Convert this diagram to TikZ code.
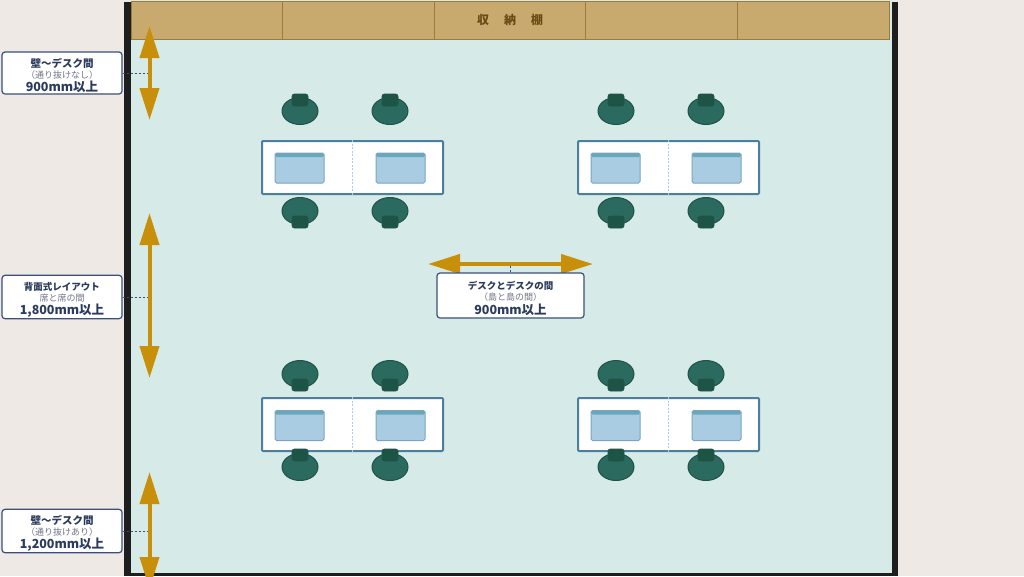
\documentclass[tikz,border=0pt]{standalone}
\usepackage{fontspec}
\setmainfont{Noto Sans CJK JP}
\usetikzlibrary{arrows.meta,shapes.geometric}

\definecolor{paper}{HTML}{EEE9E4}
\definecolor{floorcol}{HTML}{D6EAE7}
\definecolor{wallcol}{HTML}{1E1E1E}
\definecolor{shelffill}{HTML}{C8A96E}
\definecolor{shelfline}{HTML}{9E7B3A}
\definecolor{shelftext}{HTML}{6B4A14}
\definecolor{deskline}{HTML}{4A7FA0}
\definecolor{deskdiv}{HTML}{A8CCE0}
\definecolor{monfill}{HTML}{A9CCE3}
\definecolor{monline}{HTML}{7AA5C0}
\definecolor{monstrip}{HTML}{6BA7BA}
\definecolor{chairfill}{HTML}{2B6B5F}
\definecolor{chairline}{HTML}{1F5248}
\definecolor{backfill}{HTML}{1E5446}
\definecolor{dimcol}{HTML}{C8900A}
\definecolor{lblline}{HTML}{3B4F7C}
\definecolor{lbltext}{HTML}{2B3B5C}
\definecolor{lblsub}{HTML}{707585}

\newcommand{\lbltitle}[2][10.5]{\rule{0pt}{14pt}{\fontsize{#1}{12}\selectfont\bfseries #2}}
\newcommand{\lblsubt}[1]{{\fontsize{9}{12}\selectfont\color{lblsub}#1}}
\newcommand{\lblvalue}[1]{{\fontsize{12.5}{12}\selectfont\bfseries #1}}

\begin{document}
\begin{tikzpicture}[x=1pt,y=-1pt,
    shelf/.style={draw=shelfline,fill=shelffill,line width=1pt,
      minimum width=151.6pt,minimum height=38pt,inner sep=0pt},
    desk/.style={draw=deskline,fill=white,line width=2pt,rounded corners=1pt,
      minimum width=181pt,minimum height=53pt,inner sep=0pt},
    monitor/.style={draw=monline,fill=monfill,line width=1pt,rounded corners=1.5pt,
      minimum width=49pt,minimum height=30pt,inner sep=0pt,
      path picture={\fill[monstrip] (path picture bounding box.north west)
        rectangle ([yshift=-4pt]path picture bounding box.north east);}},
    chair/.style={ellipse,draw=chairline,fill=chairfill,line width=1pt,
      minimum width=36pt,minimum height=27pt,inner sep=0pt},
    backrest/.style={draw=chairline,fill=backfill,line width=0.8pt,rounded corners=2.5pt,
      minimum width=16pt,minimum height=12pt,inner sep=0pt},
    dimarrow/.style={draw=dimcol,line width=4pt,
      {Triangle[length=32pt,width=19pt]}-{Triangle[length=32pt,width=19pt]}},
    leader/.style={draw=lblline,line width=0.8pt,dash pattern=on 2pt off 2pt},
    labelbox/.style={draw=lblline,fill=white,line width=1.2pt,rounded corners=3pt,
      align=center,text=lbltext,font=\fontsize{10}{12}\selectfont,
      minimum width=120pt,minimum height=42pt,inner sep=1pt}]

  \useasboundingbox (0,0) rectangle (1024,576);
  \clip (0,0) rectangle (1024,576);
  \fill[paper] (0,0) rectangle (1024,576);

  % room
  \fill[floorcol] (131,0) rectangle (892,573);
  \fill[wallcol] (124,2) rectangle (131,576);
  \fill[wallcol] (892,2) rectangle (898,576);
  \fill[wallcol] (124,573) rectangle (898,576);

  % storage shelf
  \foreach \i in {1,...,5}
    \node[shelf] (shelf\i) at ({131+151.6*(\i-0.5)},20) {};
  \node[text=shelftext,font=\fontsize{12}{12}\selectfont\bfseries] (shelfname) at (shelf3)
    {収\hspace{15pt}納\hspace{15pt}棚};

  % desks
  \node[desk] (deskTL) at (352.5,167.5) {};
  \node[desk] (deskTR) at (668.5,167.5) {};
  \node[desk] (deskBL) at (352.5,424.5) {};
  \node[desk] (deskBR) at (668.5,424.5) {};
  \begin{scope}[draw=deskdiv,line width=1pt,dash pattern=on 2pt off 1.5pt]
    \draw (deskTL.north) to (deskTL.south);
    \draw (deskTR.north) to (deskTR.south);
    \draw (deskBL.north) to (deskBL.south);
    \draw (deskBR.north) to (deskBR.south);
  \end{scope}

  % monitors
  \node[monitor] (monTL1) at (299.5,168) {};
  \node[monitor] (monTL2) at (400.5,168) {};
  \node[monitor] (monTR1) at (615.5,168) {};
  \node[monitor] (monTR2) at (716.5,168) {};
  \node[monitor] (monBL1) at (299.5,425.5) {};
  \node[monitor] (monBL2) at (400.5,425.5) {};
  \node[monitor] (monBR1) at (615.5,425.5) {};
  \node[monitor] (monBR2) at (716.5,425.5) {};

  % chairs, upper islands (backs away from desk)
  \foreach \x in {300,390,616,706} {
    \node[chair] (chairTa\x) at (\x,111) {};
    \node[backrest] (backTa\x) at (\x,100) {};
    \node[chair] (chairTb\x) at (\x,211) {};
    \node[backrest] (backTb\x) at (\x,222) {};
  }
  % chairs, lower islands (backs toward desk)
  \foreach \x in {300,390,616,706} {
    \node[chair] (chairBa\x) at (\x,374) {};
    \node[backrest] (backBa\x) at (\x,385) {};
    \node[chair] (chairBb\x) at (\x,467) {};
    \node[backrest] (backBb\x) at (\x,455) {};
  }

  % dimension arrows
  \coordinate (wallAtop) at (149.5,26);
  \coordinate (wallAbot) at (149.5,120);
  \coordinate (backtop) at (149.5,213);
  \coordinate (backbot) at (149.5,378);
  \coordinate (wallBtop) at (149.5,472);
  \coordinate (wallBbot) at (149.5,589);
  \coordinate (gapleft) at (428,264);
  \coordinate (gapright) at (593,264);
  \draw[dimarrow] (wallAtop) -- (wallAbot);
  \draw[dimarrow] (backtop) -- (backbot);
  \draw[dimarrow] (wallBtop) -- (wallBbot);
  \draw[dimarrow] (gapleft) -- (gapright);

  % labels
  \node[labelbox] (wallA) at (62,73)
    {\lbltitle{壁〜デスク間}\\[-1pt]\lblsubt{（通り抜けなし）}\\[1.5pt]\lblvalue{900mm以上}};
  \node[labelbox] (backlbl) at (62,297)
    {\lbltitle[9.5]{背面式レイアウト}\\[-1pt]\lblsubt{席と席の間}\\[1.5pt]\lblvalue{1,800mm以上}};
  \node[labelbox] (wallB) at (62,531)
    {\lbltitle{壁〜デスク間}\\[-1pt]\lblsubt{（通り抜けあり）}\\[1.5pt]\lblvalue{1,200mm以上}};
  \node[labelbox,minimum width=147pt,minimum height=45pt] (gaplbl) at (510.5,295.5)
    {\lbltitle[9.5]{デスクとデスクの間}\\[-1pt]\lblsubt{（島と島の間）}\\[1.5pt]\lblvalue{900mm以上}};

  % leaders
  \coordinate (wallAmid) at (148,73);
  \coordinate (backmid) at (148,297);
  \coordinate (wallBmid) at (148,531);
  \coordinate (gapmid) at (510.5,265);
  \draw[leader] (wallA.east) -- (wallAmid);
  \draw[leader] (backlbl.east) -- (backmid);
  \draw[leader] (wallB.east) -- (wallBmid);
  \draw[leader] (gaplbl.north) -- (gapmid);
\end{tikzpicture}
\end{document}
